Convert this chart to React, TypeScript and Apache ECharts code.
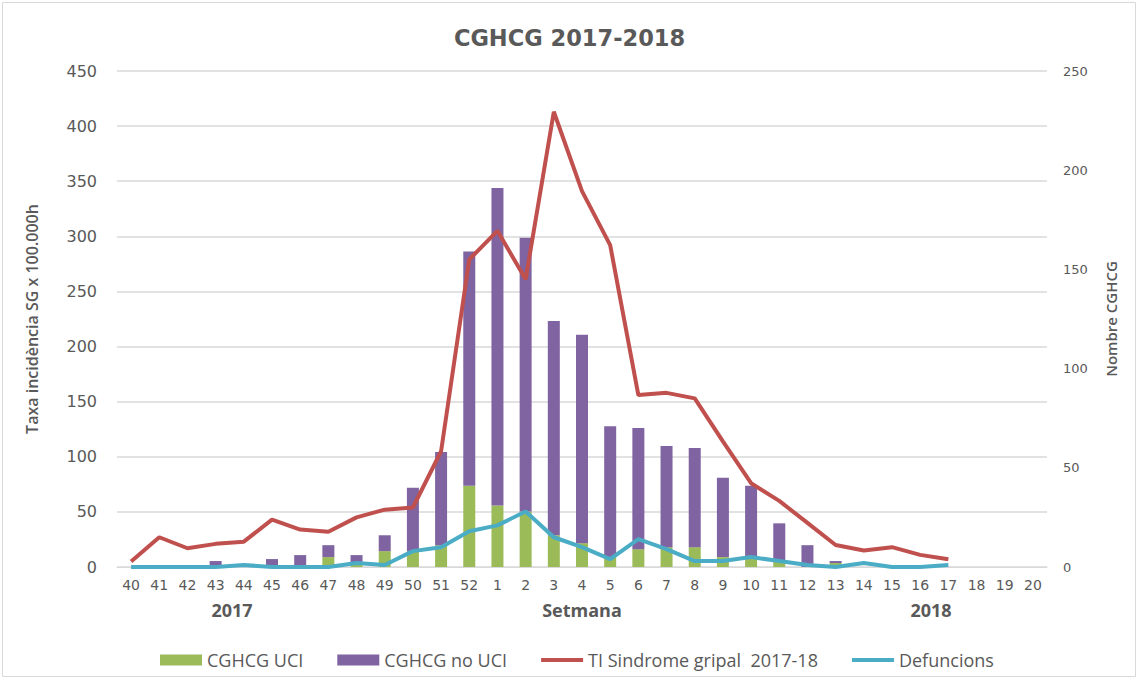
import React, { useEffect, useRef } from "react";
import * as echarts from "echarts";

// Epidemiological weeks of the 2017-2018 season
const weeks = [
  "40", "41", "42", "43", "44", "45", "46", "47", "48", "49", "50", "51", "52",
  "1", "2", "3", "4", "5", "6", "7", "8", "9", "10", "11", "12", "13", "14", "15", "16", "17", "18", "19", "20",
];

// Severe confirmed cases admitted to ICU
const cghcgUci = [
  0, 0, 0, 0, 0, 0, 0, 5, 2, 8, 8, 11, 41,
  31, 28, 16, 12, 5, 9, 10, 10, 5, 5, 3, 0, 2, 0, 0, 0, 0, 0, 0, 0,
];

// Severe confirmed cases not admitted to ICU
const cghcgNoUci = [
  0, 0, 0, 3, 0, 4, 6, 6, 4, 8, 32, 47, 118,
  160, 138, 108, 105, 66, 61, 51, 50, 40, 36, 19, 11, 1, 0, 0, 0, 0, 0, 0, 0,
];

// Influenza-like illness incidence rate per 100,000 inhabitants
const tiSindromeGripal = [
  5, 27, 17, 21, 23, 43, 34, 32, 45, 52, 54, 105, 279,
  305, 261, 413, 341, 292, 156, 158, 153, 114, 76, 60, 40, 20, 15, 18, 11, 7, null, null, null,
];

// Deaths
const defuncions = [
  0, 0, 0, 0, 1, 0, 0, 0, 2, 1, 8, 10, 18,
  21, 28, 15, 10, 4, 14, 9, 3, 3, 5, 3, 1, 0, 2, 0, 0, 1, null, null, null,
];

const leftTicks = { min: 0, max: 450, interval: 50 };
const rightTicks = { min: 0, max: 250, interval: 50 };

const TEXT = "#595959";
const GRID_LINE = "#D9D9D9";
const SANS = "'Open Sans', 'Noto Sans', sans-serif";
const TICK_FONT = "'DejaVu Sans', sans-serif";
// Thin bar used as the legend marker of the line series
const LINE_ICON = "path://M0,0 L42,0 L42,4 L0,4 Z";

export default function App() {
  const ref = useRef<HTMLDivElement>(null);

  useEffect(() => {
    if (!ref.current) return;
    const chart = echarts.init(ref.current, undefined, { renderer: "svg" });
    const bottomLabel = (text: string, x: number) => ({
      type: "text",
      x,
      y: 610,
      style: {
        text,
        fontFamily: SANS,
        fontSize: 18,
        fontWeight: "bold",
        fill: TEXT,
        align: "center",
        verticalAlign: "middle",
      },
    });
    chart.setOption({
      animation: false,
      backgroundColor: "#ffffff",
      title: {
        text: "CGHCG 2017-2018",
        left: "center",
        top: 21,
        textStyle: {
          fontFamily: "'DejaVu Sans', sans-serif",
          fontWeight: "bold",
          fontSize: 22.5,
          color: TEXT,
        },
      },
      grid: { left: 117, right: 92, top: 71, bottom: 113, containLabel: false },
      legend: {
        left: 155,
        top: 646,
        itemGap: 34,
        itemWidth: 42,
        itemHeight: 11,
        symbolKeepAspect: true,
        textStyle: { fontFamily: SANS, fontSize: 18, color: TEXT },
        data: [
          { name: "CGHCG UCI", icon: "rect" },
          { name: "CGHCG no UCI", icon: "rect" },
          { name: "TI Sindrome gripal  2017-18", icon: LINE_ICON },
          { name: "Defuncions", icon: LINE_ICON },
        ],
      },
      xAxis: {
        type: "category",
        data: weeks,
        axisLine: { lineStyle: { color: GRID_LINE, width: 1 } },
        axisTick: { show: false },
        axisLabel: {
          interval: 0,
          margin: 11,
          fontFamily: TICK_FONT,
          fontSize: 14,
          color: TEXT,
        },
      },
      yAxis: [
        {
          type: "value",
          ...leftTicks,
          name: "Taxa incidència SG x 100.000h",
          nameLocation: "middle",
          nameGap: 77,
          nameRotate: 90,
          nameTextStyle: { fontFamily: SANS, fontSize: 16, fontWeight: 600, color: TEXT },
          axisLine: { show: false },
          axisTick: { show: false },
          axisLabel: { margin: 20, fontFamily: TICK_FONT, fontSize: 16, color: TEXT },
          splitLine: { lineStyle: { color: GRID_LINE, width: 1.5 } },
        },
        {
          type: "value",
          ...rightTicks,
          name: "Nombre CGHCG",
          nameLocation: "middle",
          nameGap: 56,
          nameRotate: 90,
          nameTextStyle: { fontFamily: SANS, fontSize: 15, fontWeight: 600, color: TEXT },
          axisLine: { show: false },
          axisTick: { show: false },
          axisLabel: { margin: 16, fontFamily: TICK_FONT, fontSize: 13, color: TEXT },
          splitLine: { show: false },
        },
      ],
      graphic: [
        {
          type: "rect",
          shape: { x: 2.5, y: 2.5, width: 1133, height: 674 },
          style: { fill: "none", stroke: "#D9D9D9", lineWidth: 1 },
          silent: true,
        },
        bottomLabel("2017", 232),
        bottomLabel("Setmana", 582),
        bottomLabel("2018", 931),
      ],
      series: [
        {
          name: "CGHCG UCI",
          type: "bar",
          stack: "cghcg",
          yAxisIndex: 1,
          barWidth: 12,
          itemStyle: { color: "#9BBB59" },
          data: cghcgUci,
        },
        {
          name: "CGHCG no UCI",
          type: "bar",
          stack: "cghcg",
          yAxisIndex: 1,
          barWidth: 12,
          itemStyle: { color: "#8064A2" },
          data: cghcgNoUci,
        },
        {
          name: "TI Sindrome gripal  2017-18",
          type: "line",
          yAxisIndex: 0,
          symbol: "none",
          lineStyle: { color: "#C0504D", width: 4 },
          itemStyle: { color: "#C0504D" },
          data: tiSindromeGripal,
        },
        {
          name: "Defuncions",
          type: "line",
          yAxisIndex: 1,
          symbol: "none",
          lineStyle: { color: "#4BACC6", width: 4 },
          itemStyle: { color: "#4BACC6" },
          data: defuncions,
        },
      ],
    });
    return () => chart.dispose();
  }, []);

  return (
    <div
      ref={ref}
      style={{ position: "absolute", left: 0, top: 0, width: 1139, height: 680 }}
    />
  );
}
